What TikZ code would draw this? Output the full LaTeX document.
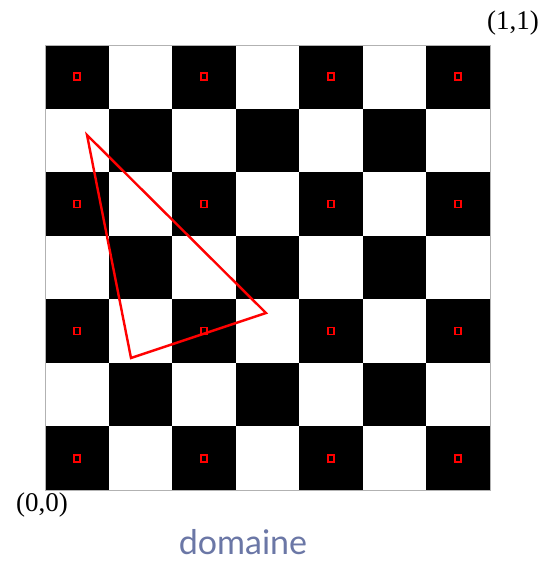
\documentclass[tikz,border=0pt]{standalone}
\usepackage{fontspec}
\setmainfont{Liberation Serif}
\newfontfamily\domfont{Lato}
\definecolor{domcol}{HTML}{6B77A6}
\tikzset{
  cell/.style={fill=black, draw=none},
  redmark/.style={draw=red, line width=1.8pt},
  tri/.style={draw=red, line width=2.4pt, line join=miter},
  lab/.style={font=\fontsize{27}{29}\selectfont, inner sep=0pt},
}
\begin{document}
\begin{tikzpicture}[x=1pt,y=-1pt]
\useasboundingbox[fill=white] (0,0) rectangle (542,562);
\pgfmathsetmacro{\cs}{445/7}
\foreach \r in {0,...,6}{
  \foreach \c in {0,...,6}{
    \pgfmathtruncatemacro{\p}{mod(\r+\c,2)}
    \ifnum\p=0
      \fill[cell] ({45+\c*\cs},{45+\r*\cs}) rectangle ++(\cs,\cs);
    \fi
  }
}
\draw[gray!60, line width=0.8pt] (45,45) rectangle (490,490);
\foreach \r in {0,2,4,6}{
  \foreach \c in {0,2,4,6}{
    \draw[redmark] ({45+(\c+0.5)*\cs-3},{45+(\r+0.5)*\cs-3.5}) rectangle ++(6,7);
  }
}
\coordinate (A) at (87,135);
\coordinate (B) at (266,313);
\coordinate (C) at (131,358);
\draw[tri] (A) -- (B) -- (C) -- cycle;
\node[lab] (t11) at (513,23) {(1,1)};
\node[lab] (t00) at (42,505) {(0,0)};
\node[inner sep=0pt, font=\domfont\fontsize{34}{36}\selectfont, text=domcol] (dom) at (243,542) {domaine};
\end{tikzpicture}
\end{document}
